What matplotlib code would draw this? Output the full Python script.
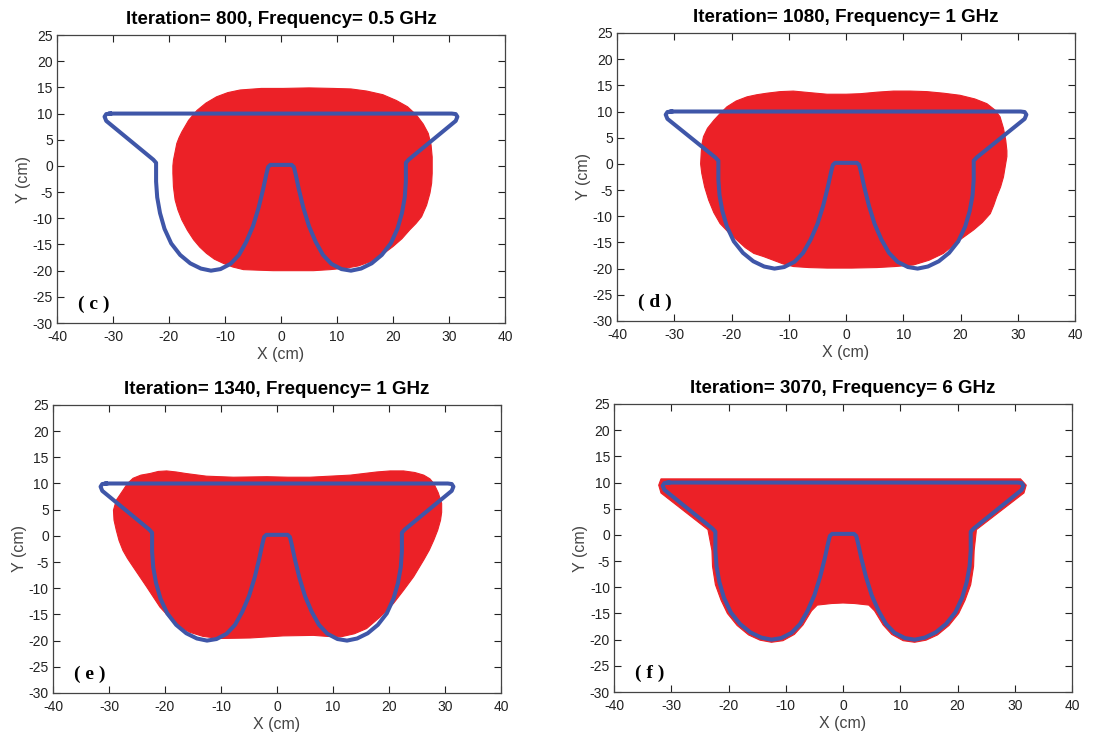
import numpy as np
import matplotlib.pyplot as plt
from matplotlib.patches import Polygon

plt.rcParams['font.family'] = 'Liberation Sans'
plt.rcParams['axes.unicode_minus'] = False

# antenna outline (cm), closed path
outline_x = [-30.5, 30.5, 31.2, 31.5, 31.2, 22.8, 22.3, 22.3, 22.1, 21.6, 20.8, 19.6, 18.0,
             16.2, 14.3, 12.5, 10.8, 9.0, 7.5, 6.2, 5.0, 4.0, 3.2, 2.6, 2.3, 1.9,
             -1.9, -2.3, -2.6, -3.2, -4.0, -5.0, -6.2, -7.5, -9.0, -10.8, -12.5, -14.3,
             -16.2, -18.0, -19.6, -20.8, -21.6, -22.1, -22.3, -22.3, -22.8, -31.2, -31.5,
             -31.2, -30.5]
outline_y = [10.0, 10.0, 9.9, 9.4, 8.6, 1.2, 0.6, -3.0, -6.0, -9.0, -12.0, -14.8, -17.0,
             -18.6, -19.6, -20.0, -19.7, -18.7, -17.0, -14.5, -11.5, -8.0, -4.5, -1.5, -0.2, 0.2,
             0.2, -0.2, -1.5, -4.5, -8.0, -11.5, -14.5, -17.0, -18.7, -19.7, -20.0, -19.6,
             -18.6, -17.0, -14.8, -12.0, -9.0, -6.0, -3.0, 0.6, 1.2, 8.6, 9.4,
             9.9, 10.0]

# reconstructed regions (cm)
red_c_x = [-15.0, -13.4, -11.5, -9.5, -7.3, -3.5, 0.4, 5.0, 9.3, 12.5, 15.3, 18.2, 20.6, 22.6,
           24.2, 25.4, 26.3, 26.8, 27.0, 27.0, 26.9, 26.6, 26.0, 25.1, 24.1, 23.0, 21.6, 20.0,
           18.0, 15.9, 13.8, 11.7, 8.8, 5.8, 2.2, -1.4, -4.2, -6.7, -8.6, -10.3, -11.9, -13.3,
           -14.5, -15.6, -16.7, -17.7, -18.4, -18.9, -19.2, -19.3, -19.3, -19.2, -18.9, -18.6,
           -18.2, -17.7, -17.1, -16.5, -15.8]
red_c_y = [10.6, 12.0, 13.2, 14.0, 14.5, 14.8, 14.8, 14.9, 14.8, 14.7, 14.3, 13.6, 12.5, 11.3,
           9.7, 8.0, 6.2, 4.0, 1.7, -1.4, -3.3, -5.2, -7.5, -9.7, -11.0, -12.2, -13.9, -15.4,
           -17.0, -18.3, -19.1, -19.5, -19.8, -20.0, -20.0, -20.0, -19.9, -19.8, -19.3, -18.6,
           -17.8, -16.7, -15.5, -14.1, -12.3, -10.3, -8.4, -6.5, -4.0, -1.4, 0.0, 1.1, 2.7, 4.3,
           5.4, 6.5, 7.6, 8.7, 9.6]

red_d_x = [-17.3, -15.6, -13.8, -11.5, -9.2, -6.3, -3.3, 0.0, 2.5, 5.5, 8.3, 11.2, 14.1, 17.0,
           19.9, 22.5, 24.6, 26.0, 26.9, 27.5, 27.9, 28.1, 28.1, 27.5, 27.0, 26.3, 25.8, 25.2,
           23.8, 22.3, 19.9, 17.0, 14.5, 11.8, 8.6, 5.4, 1.0, -3.3, -6.5, -9.2, -11.0, -12.7,
           -14.4, -16.1, -17.6, -19.0, -20.6, -22.0, -23.1, -24.0, -24.7, -25.2, -25.4, -25.3,
           -25.2, -24.9, -24.2, -23.1, -22.0, -20.8, -19.2]
red_d_y = [12.8, 13.2, 13.5, 13.8, 13.9, 13.6, 13.3, 13.3, 13.4, 13.7, 13.9, 13.9, 13.8, 13.5,
           13.1, 12.4, 11.5, 10.3, 9.0, 6.8, 4.5, 2.5, 1.4, -2.5, -4.4, -6.3, -7.9, -9.5,
           -11.2, -12.6, -14.5, -17.1, -18.4, -19.3, -19.6, -19.8, -19.9, -19.9, -19.8, -19.6,
           -19.1, -18.4, -17.7, -17.1, -16.0, -14.6, -13.0, -11.4, -9.3, -6.9, -4.4, -1.8, 0.0,
           2.0, 3.6, 5.2, 6.8, 8.3, 9.6, 10.9, 12.0]

red_e_x = [-27.5, -26.7, -25.7, -24.3, -22.7, -21.2, -19.7, -18.0, -16.2, -12.6, -7.8, -1.8,
           2.0, 5.9, 9.5, 13.1, 17.8, 20.2, 22.6, 24.6, 26.2, 27.3, 28.0, 28.8, 29.4, 29.4,
           29.2, 28.7, 28.0, 27.2, 26.2, 24.4, 22.6, 20.8, 18.4, 16.0, 13.8, 11.3, 9.0, 6.5,
           1.1, -4.8, -10.2, -13.2, -15.6, -17.2, -18.5, -20.9, -23.3, -25.7, -26.7, -27.5,
           -28.2, -28.7, -29.1, -29.2, -28.7]
red_e_y = [8.7, 10.0, 11.0, 11.6, 11.9, 12.3, 12.4, 12.2, 11.9, 11.4, 11.2, 11.3,
           11.2, 11.2, 11.4, 11.6, 12.2, 12.4, 12.4, 12.1, 11.6, 10.9, 10.0, 8.2, 6.2, 4.5,
           3.0, 1.1, -0.8, -2.7, -4.6, -7.8, -10.4, -12.9, -15.5, -17.7, -18.7, -19.3, -19.2, -19.0,
           -19.1, -19.5, -19.6, -19.2, -18.4, -17.5, -16.4, -13.6, -9.7, -5.9, -4.3, -2.8,
           -0.9, 1.1, 3.0, 4.9, 6.8]

red_f_x = [-31.8, 31.0, 32.0, 31.6, 23.3, 22.9, 22.8, 22.3, 21.3, 20.2, 18.5, 16.5, 14.5,
           12.5, 10.5, 8.5, 7.0, 5.5, 4.5, 2.0, 0.0, -2.0, -4.5, -5.5, -7.0, -8.5, -10.5,
           -12.5, -14.5, -16.5, -18.5, -20.2, -21.3, -22.3, -22.8, -22.9, -23.6, -31.8, -32.2]
red_f_y = [10.7, 10.7, 9.5, 8.0, 1.0, -3.0, -6.0, -9.5, -12.5, -15.0, -17.3, -19.1, -20.1,
           -20.5, -20.2, -19.0, -17.2, -14.5, -13.4, -13.1, -13.0, -13.1, -13.4, -14.5, -17.2, -19.0, -20.2,
           -20.5, -20.1, -19.1, -17.3, -15.0, -12.5, -9.5, -6.0, -3.0, 1.0, 8.0, 9.5]

titles = ['Iteration= 800, Frequency= 0.5 GHz', 'Iteration= 1080, Frequency= 1 GHz',
          'Iteration= 1340, Frequency= 1 GHz', 'Iteration= 3070, Frequency= 6 GHz']
labels = ['( c )', '( d )', '( e )', '( f )']
reds = [(red_c_x, red_c_y), (red_d_x, red_d_y), (red_e_x, red_e_y), (red_f_x, red_f_y)]

# axes boxes in figure fraction
boxes = [[0.0515, 0.5599, 0.4051, 0.3924],
         [0.5579, 0.5627, 0.4141, 0.3924],
         [0.0479, 0.0559, 0.4051, 0.3924],
         [0.5552, 0.0572, 0.4141, 0.3924]]

fig = plt.figure(figsize=(11.06, 7.34), dpi=100)
for i in range(4):
    ax = fig.add_axes(boxes[i])
    rx, ry = reds[i]
    ax.add_patch(Polygon(np.column_stack([rx, ry]), closed=True, facecolor='#ec2127',
                         edgecolor='#ec2127', lw=0.8, zorder=1))
    ax.plot(outline_x, outline_y, color='#3f56a8', lw=2.9, zorder=2,
            solid_joinstyle='round')
    ax.set_xlim(-40, 40)
    ax.set_ylim(-30, 25)
    ax.set_xticks(np.arange(-40, 41, 10))
    ax.set_yticks(np.arange(-30, 26, 5))
    ax.tick_params(direction='in', top=True, right=True, length=5, width=0.8,
                   labelsize=10, colors='#222222')
    ax.tick_params(axis='x', pad=5)
    ax.tick_params(axis='y', pad=3)
    for s in ax.spines.values():
        s.set_color('#444444')
        s.set_linewidth(0.9)
    ax.set_xlabel('X (cm)', fontsize=11.5, color='#444444', labelpad=2)
    ax.set_ylabel('Y (cm)', fontsize=11.5, color='#444444', labelpad=1)
    ax.set_title(titles[i], fontsize=13.5, fontweight='bold', pad=8)
    ax.text(-36.3, -26.5, labels[i], fontsize=14, fontweight='bold', family='Liberation Serif',
            ha='left', va='center')

fig.savefig('out.png', dpi=100)
